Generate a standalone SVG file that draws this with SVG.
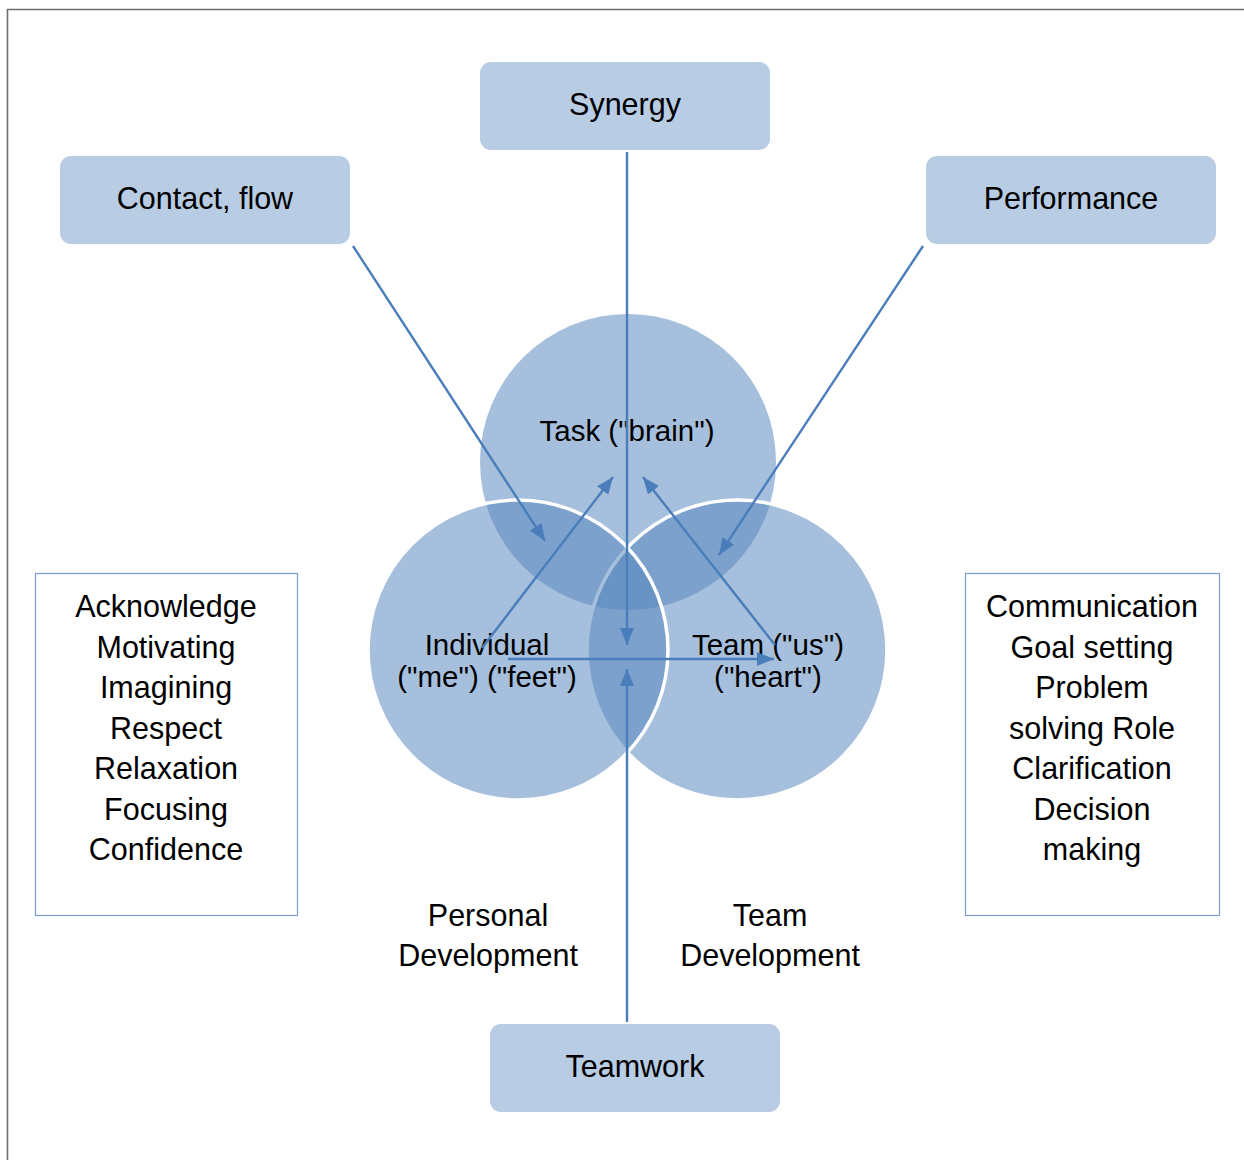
<svg xmlns="http://www.w3.org/2000/svg" width="1244" height="1160" viewBox="0 0 1244 1160">
<defs>
<style>
.box{fill:#b8cce4;}
.list{fill:#ffffff;stroke:#7a9cd2;stroke-width:1.2;}
.t{font-family:"Liberation Sans",Arial,sans-serif;font-size:30.5px;fill:#000;text-anchor:middle;}
.s{font-size:29.5px;}
.c{fill:#5686bf;fill-opacity:0.53;}
.cw{fill:#5686bf;fill-opacity:0.53;stroke:#ffffff;stroke-width:3.5;}
.ah{stroke:#4a7ebb;stroke-width:2.4;fill:none;marker-end:url(#arr);}
</style>
<marker id="arr" markerUnits="userSpaceOnUse" markerWidth="20" markerHeight="16" refX="17" refY="7" orient="auto">
<path d="M0,0 L17,7 L0,14 z" fill="#4a7ebb"/>
</marker>
</defs>
<rect x="0" y="0" width="1244" height="1160" fill="#ffffff"/>
<path d="M7.5,1160 L7.5,9.5 L1244,9.5" fill="none" stroke="#6e6e6e" stroke-width="1.6"/>

<g id="venn">
<circle id="task-circle" class="c" cx="628" cy="462" r="148"/>
<circle id="team-circle" class="cw" cx="737" cy="650" r="150"/>
<circle id="individual-circle" class="cw" cx="518" cy="650" r="150"/>
</g>

<g id="synergy"><rect class="box" x="480" y="62" width="290" height="88" rx="11"/><text class="t" x="625" y="115">Synergy</text></g>
<g id="contact-flow"><rect class="box" x="60" y="156" width="290" height="88" rx="11"/><text class="t" x="205" y="209">Contact, flow</text></g>
<g id="performance"><rect class="box" x="926" y="156" width="290" height="88" rx="11"/><text class="t" x="1071" y="209">Performance</text></g>
<g id="teamwork"><rect class="box" x="490" y="1024" width="290" height="88" rx="11"/><text class="t" x="635" y="1077">Teamwork</text></g>

<g id="individual-skills"><rect class="list" x="35.5" y="573.5" width="262" height="342"/>
<text class="t" x="166"><tspan x="166" y="617">Acknowledge</tspan><tspan x="166" y="657.5">Motivating</tspan><tspan x="166" y="698">Imagining</tspan><tspan x="166" y="738.5">Respect</tspan><tspan x="166" y="779">Relaxation</tspan><tspan x="166" y="819.5">Focusing</tspan><tspan x="166" y="860">Confidence</tspan></text></g>
<g id="team-skills"><rect class="list" x="965.5" y="573.5" width="254" height="342"/>
<text class="t" x="1092"><tspan x="1092" y="617">Communication</tspan><tspan x="1092" y="657.5">Goal setting</tspan><tspan x="1092" y="698">Problem</tspan><tspan x="1092" y="738.5">solving Role</tspan><tspan x="1092" y="779">Clarification</tspan><tspan x="1092" y="819.5">Decision</tspan><tspan x="1092" y="860">making</tspan></text></g>

<g id="task-label"><text class="t s" x="627" y="441">Task ("brain")</text></g>
<g id="individual-label"><text class="t s" x="487"><tspan x="487" y="655">Individual</tspan><tspan x="487" y="687">("me") ("feet")</tspan></text></g>
<g id="team-label"><text class="t s" x="768"><tspan x="768" y="655">Team ("us")</tspan><tspan x="768" y="687">("heart")</tspan></text></g>
<g id="personal-dev"><text class="t" x="488"><tspan x="488" y="926">Personal</tspan><tspan x="488" y="966">Development</tspan></text></g>
<g id="team-dev"><text class="t" x="770"><tspan x="770" y="926">Team</tspan><tspan x="770" y="966">Development</tspan></text></g>

<g id="connectors">
<line class="ah" x1="627" y1="152" x2="627" y2="645"/>
<line class="ah" x1="627" y1="1022" x2="627" y2="669"/>
<line class="ah" x1="353" y1="246" x2="545" y2="541"/>
<line class="ah" x1="923" y1="246" x2="719" y2="555"/>
<line class="ah" x1="482" y1="648" x2="613" y2="477"/>
<line class="ah" x1="775" y1="645" x2="643" y2="477"/>
<line class="ah" x1="508" y1="659" x2="774" y2="659"/>
</g>
</svg>
